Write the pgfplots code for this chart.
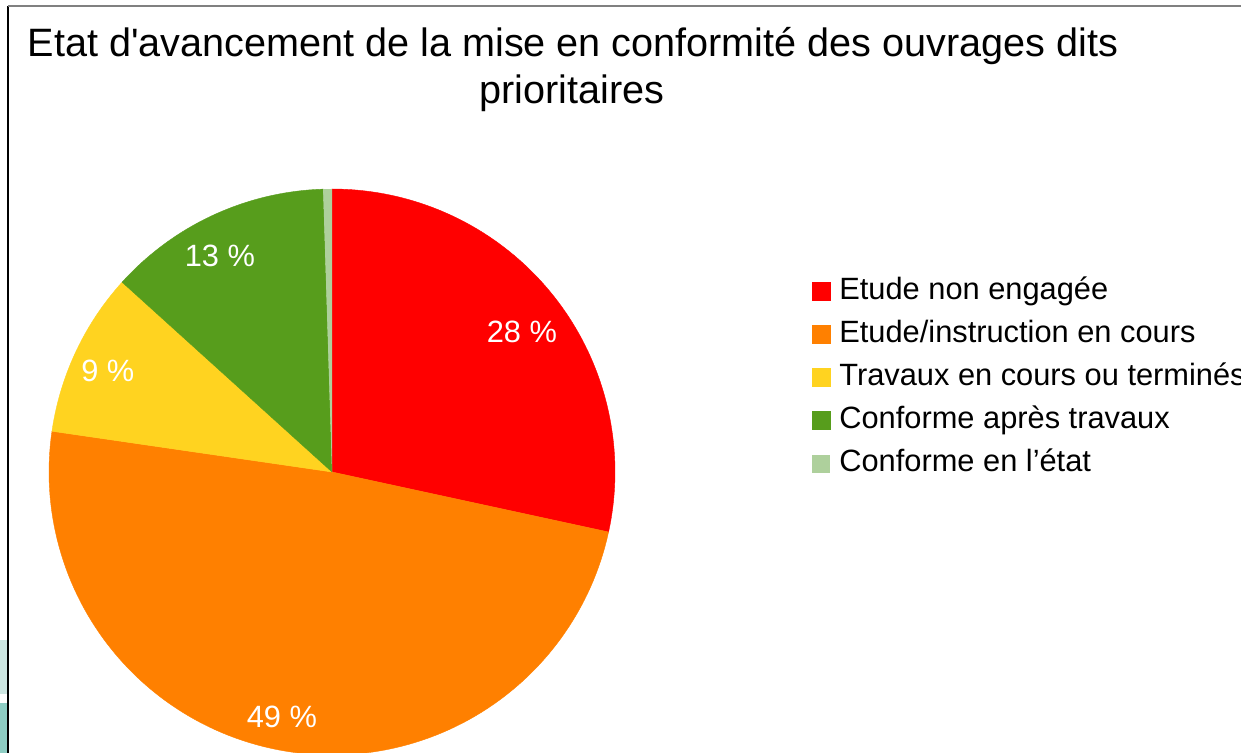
\documentclass[border=0pt]{standalone}
\usepackage{pgfplots}
\pgfplotsset{compat=1.18}
\usepackage{pgfplotstable}
\usepackage{fontspec}
\setmainfont{Liberation Sans}
\definecolor{cRed}{HTML}{FF0000}
\definecolor{cOrange}{HTML}{FF8000}
\definecolor{cYellow}{HTML}{FFD320}
\definecolor{cGreen}{HTML}{579D1C}
\definecolor{cLight}{HTML}{AED09C}
\definecolor{tealA}{HTML}{CDE6E1}
\definecolor{tealB}{HTML}{8ECDC3}

\pgfplotstableread{
share
28.4
48.9
9.4
12.8
0.5
}\pietable
\pgfplotstablegetelem{0}{share}\of\pietable\let\vA\pgfplotsretval
\pgfplotstablegetelem{1}{share}\of\pietable\let\vB\pgfplotsretval
\pgfplotstablegetelem{2}{share}\of\pietable\let\vC\pgfplotsretval
\pgfplotstablegetelem{3}{share}\of\pietable\let\vD\pgfplotsretval
\pgfplotstablegetelem{4}{share}\of\pietable\let\vE\pgfplotsretval
\pgfmathsetmacro\tA{90}
\pgfmathsetmacro\tB{\tA-3.6*\vA}
\pgfmathsetmacro\tC{\tB-3.6*\vB}
\pgfmathsetmacro\tD{\tC-3.6*\vC}
\pgfmathsetmacro\tE{\tD-3.6*\vD}
\pgfmathsetmacro\tF{\tE-3.6*\vE}

\begin{document}
\begin{tikzpicture}[x=0.5pt,y=0.5pt]
\useasboundingbox (0,0) rectangle (1241,753);
\clip (0,0) rectangle (1241,753);
\fill[tealA] (0,59) rectangle (8,113);
\fill[tealB] (0,0) rectangle (8,50);
\draw[line width=1pt, black] (8,0) -- (8,747);
\draw[line width=1.3pt, gray] (8,747) -- (1241,747);
\node[anchor=base, inner sep=0pt, font=\fontsize{19.8}{23}\selectfont] at (573,696.3) {Etat d\textquotesingle avancement de la mise en conformité des ouvrages dits};
\node[anchor=base, inner sep=0pt, font=\fontsize{19.8}{23}\selectfont] at (572,649.3) {prioritaires};
\begin{axis}[
  at={(166pt,140.5pt)}, anchor=center,
  x=141.5pt, y=141.5pt,
  xmin=-1, xmax=1, ymin=-1, ymax=1,
  hide axis, clip=false,
  legend image code/.code={\fill[#1] (0pt,-4.5pt) rectangle (9pt,4.5pt);},
  legend cell align=left,
  legend style={at={(1.348,0.8445)}, anchor=north west, draw=none, fill=none,
    inner sep=0pt, outer sep=0pt, font=\fontsize{15.4}{18}\selectfont,
    row sep=7pt, nodes={inner sep=0pt, text height=11pt, text depth=3.5pt},
    /tikz/every odd column/.append style={column sep=4.5pt}},
]
\addplot[fill=cRed, draw=cRed, line width=0.2pt, domain=\tB:\tA, samples=80] ({cos(x)},{sin(x)}) -- (axis cs:0,0) -- cycle;
\addlegendentry{Etude non engagée}
\addplot[fill=cOrange, draw=cOrange, line width=0.2pt, domain=\tC:\tB, samples=120] ({cos(x)},{sin(x)}) -- (axis cs:0,0) -- cycle;
\addlegendentry{Etude/instruction en cours}
\addplot[fill=cYellow, draw=cYellow, line width=0.2pt, domain=\tD:\tC, samples=40] ({cos(x)},{sin(x)}) -- (axis cs:0,0) -- cycle;
\addlegendentry{Travaux en cours ou terminés}
\addplot[fill=cGreen, draw=cGreen, line width=0.2pt, domain=\tE:\tD, samples=50] ({cos(x)},{sin(x)}) -- (axis cs:0,0) -- cycle;
\addlegendentry{Conforme après travaux}
\addplot[fill=cLight, draw=none, domain=\tF:\tE, samples=5] ({cos(x)},{sin(x)}) -- (axis cs:0,0) -- cycle;
\addlegendentry{Conforme en l’état}
\node[white, font=\fontsize{15.4}{18}\selectfont] at (axis cs:0.671,0.495) {28 \%};
\node[white, font=\fontsize{15.4}{18}\selectfont] at (axis cs:-0.177,-0.866) {49 \%};
\node[white, font=\fontsize{15.4}{18}\selectfont] at (axis cs:-0.792,0.357) {9 \%};
\node[white, font=\fontsize{15.4}{18}\selectfont] at (axis cs:-0.396,0.763) {13 \%};
\end{axis}
\end{tikzpicture}
\end{document}
